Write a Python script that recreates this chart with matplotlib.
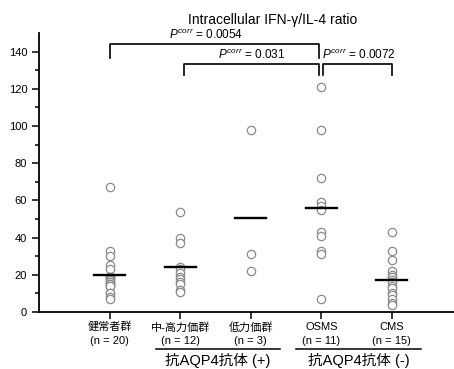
import matplotlib
matplotlib.use("Agg")
import matplotlib.pyplot as plt
import numpy as np

plt.rcParams['font.family'] = ['Liberation Sans', 'Noto Sans CJK JP', 'DejaVu Sans']
plt.rcParams['mathtext.fontset'] = 'custom'
plt.rcParams['mathtext.it'] = 'Liberation Sans:italic'
plt.rcParams['mathtext.rm'] = 'Liberation Sans'

# data
groups = ["健常者群\n(n = 20)", "中-高力価群\n(n = 12)", "低力価群\n(n = 3)",
          "OSMS\n(n = 11)", "CMS\n(n = 15)"]
healthy = [67, 33, 30, 25, 23, 19, 19, 19, 18, 17, 16, 16, 15, 15, 14, 14, 10, 10, 8, 7]
mid_high = [54, 40, 37, 24, 23, 21, 19, 18, 16, 15, 12, 11]
low = [98, 31, 22]
osms = [121, 98, 72, 59, 57, 55, 43, 41, 33, 31, 7]
cms = [43, 33, 28, 22, 20, 19, 17, 16, 14, 13, 10, 9, 7, 5, 4]
series = [healthy, mid_high, low, osms, cms]

p_values = ["0.0054", "0.031", "0.0072"]

# comparisons: (left x, right x, bar height, leg length, label x)
brackets = [(1.0, 3.96, 144.3, 7.5, 2.37),
            (2.06, 3.96, 133.4, 6.0, 3.01),
            (4.03, 5.0, 133.4, 6.0, 4.53)]

fig = plt.figure(figsize=(4.54, 3.69), dpi=100)
ax = fig.add_axes([0.086, 0.1545, 0.914, 0.756])

for i, vals in enumerate(series):
    x = i + 1
    ax.plot([x] * len(vals), vals, 'o', ms=6, mfc='white', mec='#8a8a8a', mew=0.9,
            linestyle='none', zorder=2)
    m = np.mean(vals)
    ax.plot([x - 0.22, x + 0.22], [m, m], color='black', lw=1.7, zorder=3)

for (x0, x1, h, leg, lx), p in zip(brackets, p_values):
    ax.plot([x0, x0, x1, x1], [h - leg, h, h, h - leg], color='black', lw=1.2,
            clip_on=False, zorder=4)
    ax.text(lx, h + 1.0, r"$P^{corr}$ = " + p, ha='center', va='bottom',
            fontsize=8.5)

ax.set_xlim(0, 5.88)
ax.set_ylim(0, 150)
ax.set_yticks(np.arange(0, 141, 20))
ax.set_yticks(np.arange(10, 150, 20), minor=True)
ax.set_xticks(range(1, 6))
ax.set_xticklabels(groups, fontsize=8, linespacing=1.5)
ax.tick_params(axis='y', labelsize=8, length=5, width=1.1)
ax.tick_params(axis='y', which='minor', length=3, width=1.1)
ax.tick_params(axis='x', length=5, width=1.1, pad=2)
for s in ['top', 'right']:
    ax.spines[s].set_visible(False)
for s in ['left', 'bottom']:
    ax.spines[s].set_linewidth(1.3)

fig.text(0.6, 0.945, "Intracellular IFN-γ/IL-4 ratio", ha='center', va='center', fontsize=10)

# antibody group annotations below axis
for xa, xb, lab in [(156, 280, "抗AQP4抗体 (+)"), (296, 421, "抗AQP4抗体 (-)")]:
    fig.add_artist(plt.Line2D([xa / 454, xb / 454], [1 - 349 / 369] * 2, color='black', lw=1.1))
    fig.text((xa + xb) / 2 / 454, 1 - 361 / 369, lab, ha='center', va='center', fontsize=10.5)

fig.savefig("out.png", dpi=100)
